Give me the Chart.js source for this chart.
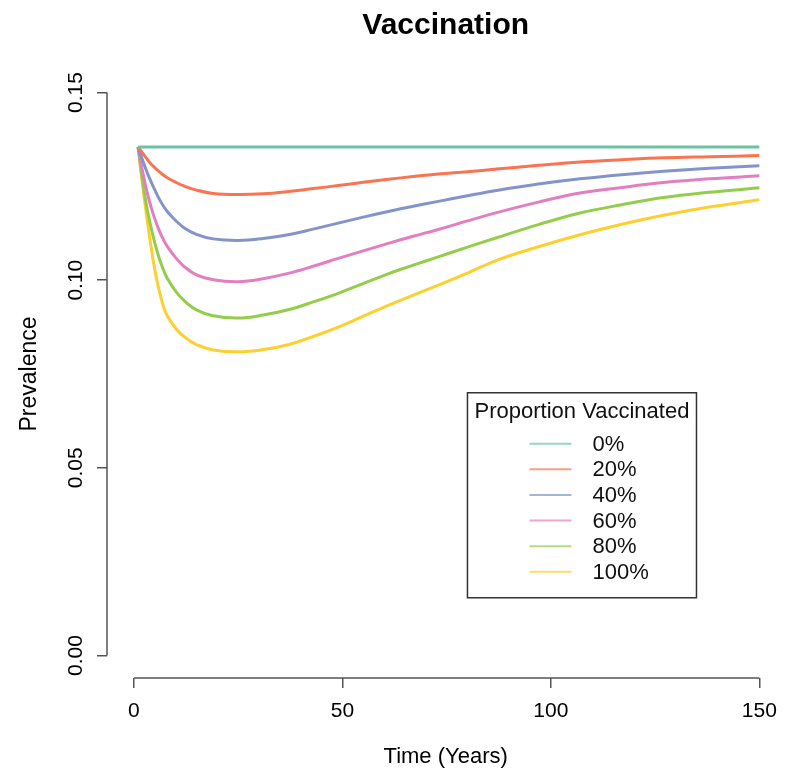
<!DOCTYPE html>
<html lang="en">
<head>
<meta charset="UTF-8">
<title>Vaccination</title>
<script src="https://cdn.jsdelivr.net/npm/chart.js"></script>
<style>
  body { margin: 0; background: #fff; }
</style>
</head>
<body>
<canvas id="vacChart" width="788" height="777"></canvas>
<script>
// values
const years   = [1, 2, 3, 4, 5, 6, 7, 8, 10, 12, 15, 19, 25, 31, 37, 43, 49, 55, 61, 67, 73, 80, 87, 97, 107, 117, 127, 138, 150];
const seriesNames = ['0%', '20%', '40%', '60%', '80%', '100%'];
const vacc0   = [0.1355, 0.1355, 0.1355, 0.1355, 0.1355, 0.1355, 0.1355, 0.1355, 0.1355, 0.1355, 0.1355, 0.1355, 0.1355, 0.1355, 0.1355, 0.1355, 0.1355, 0.1355, 0.1355, 0.1355, 0.1355, 0.1355, 0.1355, 0.1355, 0.1355, 0.1355, 0.1355, 0.1355, 0.1355];
const vacc20  = [0.1355, 0.1340, 0.1325, 0.1311, 0.1300, 0.1290, 0.1281, 0.1273, 0.1261, 0.1251, 0.1240, 0.1231, 0.1228, 0.1230, 0.1236, 0.1244, 0.1252, 0.1261, 0.1269, 0.1276, 0.1283, 0.1289, 0.1296, 0.1306, 0.1315, 0.1321, 0.1326, 0.1329, 0.1332];
const vacc40  = [0.1355, 0.1322, 0.1292, 0.1265, 0.1241, 0.1218, 0.1199, 0.1183, 0.1159, 0.1140, 0.1122, 0.1110, 0.1106, 0.1111, 0.1121, 0.1136, 0.1152, 0.1168, 0.1183, 0.1197, 0.1210, 0.1225, 0.1239, 0.1256, 0.1270, 0.1281, 0.1290, 0.1298, 0.1305];
const vacc60  = [0.1355, 0.1294, 0.1242, 0.1199, 0.1164, 0.1134, 0.1110, 0.1090, 0.1060, 0.1037, 0.1014, 0.1001, 0.0996, 0.1004, 0.1018, 0.1037, 0.1058, 0.1078, 0.1098, 0.1117, 0.1135, 0.1158, 0.1180, 0.1208, 0.1232, 0.1247, 0.1260, 0.1270, 0.1278];
const vacc80  = [0.1355, 0.1271, 0.1200, 0.1146, 0.1100, 0.1061, 0.1030, 0.1005, 0.0971, 0.0946, 0.0921, 0.0905, 0.0899, 0.0907, 0.0921, 0.0942, 0.0965, 0.0991, 0.1017, 0.1040, 0.1062, 0.1088, 0.1113, 0.1148, 0.1179, 0.1201, 0.1220, 0.1234, 0.1246];
const vacc100 = [0.1355, 0.1260, 0.1176, 0.1097, 0.1029, 0.0975, 0.0933, 0.0905, 0.0872, 0.0850, 0.0828, 0.0814, 0.0809, 0.0815, 0.0828, 0.0850, 0.0875, 0.0904, 0.0933, 0.0960, 0.0987, 0.1019, 0.1053, 0.1089, 0.1121, 0.1149, 0.1173, 0.1195, 0.1214];
const xTicks = [0, 50, 100, 150];
const xTickLabels = ['0', '50', '100', '150'];
const yTicks = [0, 0.05, 0.10, 0.15];
const yTickLabels = ['0.00', '0.05', '0.10', '0.15'];
const legendAt = [80, 0.07];   // legend top-left in data units

const colors = ['#6cc3a4', '#fb7451', '#8294cb', '#e37ec0', '#93cd4b', '#fdcf2f'];
const fam = '"Liberation Sans", Arial, sans-serif';
const allSeries = [vacc0, vacc20, vacc40, vacc60, vacc80, vacc100];

const datasets = allSeries.map((vals, i) => ({
    label: seriesNames[i],
    data: years.map((t, j) => ({ x: t, y: vals[j] })),
    borderColor: colors[i],
    borderWidth: 3,
    pointRadius: 0,
    fill: false,
    tension: 0.4
}));

// R style: axis lines only between first and last tick, plus legend box
const rStyle = {
    id: 'rStyle',
    afterDraw(chart) {
        const { ctx, scales: { x, y } } = chart;
        ctx.save();
        ctx.strokeStyle = '#555';
        ctx.lineWidth = 1.5;
        ctx.beginPath();
        ctx.moveTo(x.getPixelForValue(xTicks[0]), x.top);
        ctx.lineTo(x.getPixelForValue(xTicks[xTicks.length - 1]), x.top);
        ctx.moveTo(y.right, y.getPixelForValue(yTicks[0]));
        ctx.lineTo(y.right, y.getPixelForValue(yTicks[yTicks.length - 1]));
        ctx.stroke();

        // legend
        const left = x.getPixelForValue(legendAt[0]);
        const top = y.getPixelForValue(legendAt[1]);
        const w = 229, h = 205;
        ctx.strokeStyle = '#333';
        ctx.lineWidth = 1.5;
        ctx.strokeRect(left, top, w, h);
        ctx.fillStyle = '#111';
        ctx.font = '22px ' + fam;
        ctx.textAlign = 'center';
        ctx.textBaseline = 'middle';
        ctx.fillText('Proportion Vaccinated', left + w / 2, top + 19);
        ctx.textAlign = 'left';
        chart.data.datasets.forEach((ds, i) => {
            const yy = top + 51 + i * 25.6;
            ctx.globalAlpha = 0.7;
            ctx.strokeStyle = ds.borderColor;
            ctx.lineWidth = 2;
            ctx.beginPath();
            ctx.moveTo(left + 62, yy);
            ctx.lineTo(left + 104, yy);
            ctx.stroke();
            ctx.globalAlpha = 1;
            ctx.fillText(ds.label, left + 125, yy + 1);
        });
        ctx.restore();
    }
};

const ctx = document.getElementById('vacChart').getContext('2d');
const vacChart = new Chart(ctx, {
    type: 'line',
    data: { datasets: datasets },
    options: {
        responsive: false,
        animation: false,
        layout: { padding: { left: 0, right: 1, top: 0, bottom: 0 } },
        plugins: {
            legend: { display: false },
            tooltip: { enabled: false },
            title: {
                display: true,
                text: 'Vaccination',
                fullSize: false,
                color: '#000',
                font: { size: 30, weight: 'bold', family: fam },
                padding: { top: 8, bottom: 26 }
            }
        },
        scales: {
            x: {
                type: 'linear',
                min: -6.45,
                max: 156,
                afterBuildTicks: a => { a.ticks = xTicks.map(v => ({ value: v })); },
                afterFit: s => { s.height = 99; },
                border: { display: false },
                grid: { drawOnChartArea: false, drawTicks: true, tickLength: 10, color: '#555', lineWidth: 1.5 },
                ticks: {
                    color: '#000',
                    font: { size: 21, family: fam },
                    padding: 11,
                    maxRotation: 0,
                    callback: (v, i) => xTickLabels[i]
                },
                title: { display: true, text: 'Time (Years)', color: '#000', font: { size: 22, family: fam }, padding: { top: 0, bottom: 7 } }
            },
            y: {
                type: 'linear',
                min: -0.006,
                max: 0.156,
                afterBuildTicks: a => { a.ticks = yTicks.map(v => ({ value: v })); },
                afterFit: s => { s.width = 107; },
                border: { display: false },
                grid: { drawOnChartArea: false, drawTicks: true, tickLength: 10, color: '#555', lineWidth: 1.5 },
                ticks: {
                    color: '#000',
                    font: { size: 21, family: fam },
                    padding: 0,
                    minRotation: 90,
                    maxRotation: 90,
                    crossAlign: 'center',
                    callback: (v, i) => yTickLabels[i]
                },
                title: { display: true, text: 'Prevalence', color: '#000', font: { size: 23, family: fam }, padding: { top: 16, bottom: 0 } }
            }
        }
    },
    plugins: [rStyle]
});
</script>
</body>
</html>
